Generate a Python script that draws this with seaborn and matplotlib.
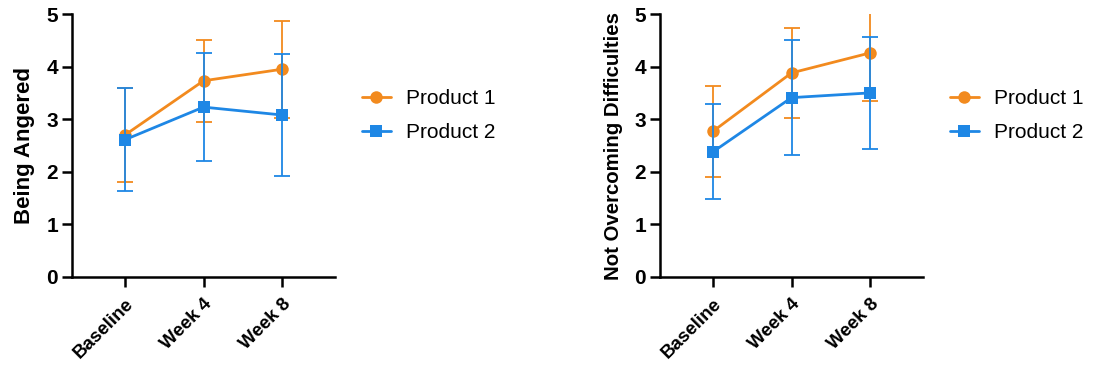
import matplotlib
matplotlib.use("Agg")
import matplotlib.pyplot as plt
import seaborn as sns
import pandas as pd

sns.set_theme(style="ticks")
plt.rcParams['font.family'] = ['Liberation Sans', 'DejaVu Sans']
plt.rcParams['text.color'] = 'black'
plt.rcParams['axes.labelcolor'] = 'black'
plt.rcParams['xtick.color'] = 'black'
plt.rcParams['ytick.color'] = 'black'

timepoints = ["Baseline", "Week 4", "Week 8"]
series_names = ["Product 1", "Product 2"]

angered_p1 = [2.70, 3.73, 3.95]
angered_p1_err = [0.89, 0.78, 0.92]
angered_p2 = [2.61, 3.23, 3.08]
angered_p2_err = [0.98, 1.03, 1.16]

difficult_p1 = [2.77, 3.88, 4.26]
difficult_p1_err = [0.86, 0.86, 0.91]
difficult_p2 = [2.38, 3.41, 3.50]
difficult_p2_err = [0.90, 1.10, 1.07]

ylabels = ["Being Angered", "Not Overcoming Difficulties"]

colors = ["#F28A1E", "#1E87E5"]
markers = ["o", "s"]

fig = plt.figure(figsize=(10.94, 3.66), dpi=100)
ax1 = fig.add_axes([72/1094, 1-277/366, 263/1094, 263/366])
ax2 = fig.add_axes([660/1094, 1-277/366, 263/1094, 263/366])

panels = [
    (ax1, [(angered_p1, angered_p1_err), (angered_p2, angered_p2_err)], ylabels[0], 16),
    (ax2, [(difficult_p1, difficult_p1_err), (difficult_p2, difficult_p2_err)], ylabels[1], 14.7),
]

for ax, data, ylab, ylsize in panels:
    rows = []
    for name, (vals, errs) in zip(series_names, data):
        for t, v in zip(timepoints, vals):
            rows.append({"time": t, "value": v, "series": name})
    df = pd.DataFrame(rows)
    for i, (name, (vals, errs)) in enumerate(zip(series_names, data)):
        ax.errorbar(range(len(timepoints)), vals, yerr=errs, fmt="none",
                    ecolor=colors[i], elinewidth=1.3, capsize=6, capthick=1.3,
                    zorder=2 + 2*i)
        sub = df[df["series"] == name].copy()
        sub["x"] = range(len(timepoints))
        sns.lineplot(data=sub, x="x", y="value", ax=ax, color=colors[i],
                     marker=markers[i], markersize=9 if i == 0 else 8.5,
                     markeredgewidth=0, linewidth=2, label=name,
                     zorder=3 + 2*i)
    ax.set_xlim(-0.675, 2.675)
    ax.set_ylim(0, 5)
    ax.set_xticks(range(len(timepoints)))
    ax.set_xticklabels(timepoints, rotation=45, ha="right", rotation_mode="anchor",
                       fontsize=13.5, fontweight="bold")
    ax.set_yticks([0, 1, 2, 3, 4, 5])
    ax.set_yticklabels(["0", "1", "2", "3", "4", "5"], fontsize=15, fontweight="bold")
    ax.set_xlabel("")
    ax.set_ylabel(ylab, fontsize=ylsize, fontweight="bold", labelpad=8)
    for s in ["top", "right"]:
        ax.spines[s].set_visible(False)
    for s in ["left", "bottom"]:
        ax.spines[s].set_linewidth(1.8)
        ax.spines[s].set_color("black")
    ax.tick_params(axis="both", length=7, width=1.8, color="black", labelcolor="black",
                   direction="out", pad=3)
    ax.tick_params(axis="x", pad=6)
    leg = ax.legend(loc="upper left", bbox_to_anchor=(1.03, 0.785), frameon=False,
                    fontsize=15, handlelength=1.4, handletextpad=0.75, labelspacing=0.7)
    for t in leg.get_texts():
        t.set_color("black")

fig.savefig("out.png", dpi=100)
